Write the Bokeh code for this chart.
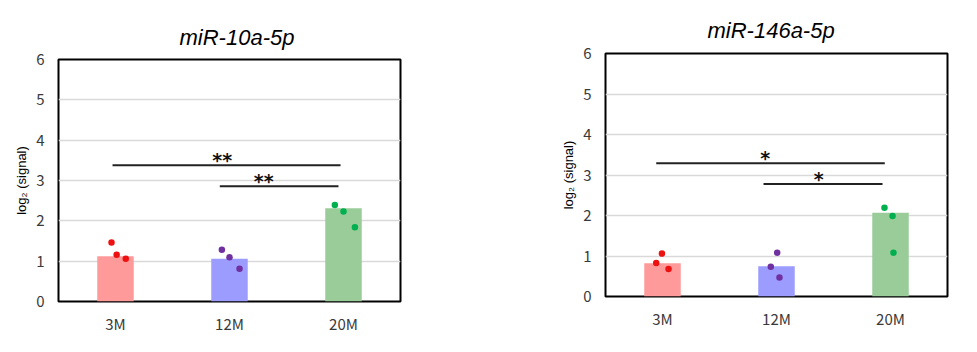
from bokeh.plotting import figure
from bokeh.layouts import row, column
from bokeh.models import Range1d, FixedTicker, ColumnDataSource
from bokeh.core.properties import value
from bokeh.embed import file_html
from bokeh.resources import INLINE

groups = ["3M", "12M", "20M"]
bar_colors = ["#ff9a9a", "#9c9cff", "#99cc99"]
dot_colors = ["#ee1111", "#7030a0", "#00b050"]

# miR-10a-5p
mean_a = [1.12, 1.06, 2.31]
pts_a = [[1.46, 1.16, 1.06], [1.28, 1.10, 0.81], [2.39, 2.23, 1.84]]
jit_a = [[-0.035, 0.01, 0.09], [-0.067, 0.0, 0.088], [-0.076, 0.0, 0.10]]
sig_a = {"x0": [0.474, 1.415], "x1": [2.474, 2.456], "y": [3.38, 2.86],
         "tx": [1.436, 1.80], "label": ["**", "**"]}

# miR-146a-5p
mean_b = [0.82, 0.75, 2.07]
pts_b = [[1.06, 0.83, 0.68], [1.08, 0.735, 0.47], [2.19, 1.99, 1.08]]
jit_b = [[-0.005, -0.055, 0.053], [0.006, -0.05, 0.026], [-0.053, 0.018, 0.026]]
sig_b = {"x0": [0.445, 1.386], "x1": [2.45, 2.43], "y": [3.29, 2.78],
         "tx": [1.40, 1.87], "label": ["*", "*"]}

yticks = [0, 1, 2, 3, 4, 5, 6]


def make(title, means, pts, jit, sig, left, right, top, bottom, fh, toff, tstand):
    p = figure(frame_width=342, frame_height=fh, output_backend="svg", toolbar_location=None,
               x_range=Range1d(0, 3), y_range=Range1d(0, 6),
               min_border_left=left, min_border_right=right,
               min_border_top=top, min_border_bottom=bottom)
    p.title.text = title
    p.title.text_font = "Liberation Sans"
    p.title.text_font_style = "italic"
    p.title.text_font_size = "22px"
    p.title.text_color = "#000000"
    p.title.align = "left"
    p.title.offset = toff
    p.title.standoff = tstand
    p.outline_line_color = "black"
    p.outline_line_width = 2
    p.background_fill_color = "white"
    p.border_fill_color = "white"

    xs = [0.5 + i for i in range(len(groups))]
    src = ColumnDataSource(dict(x=xs, top=means, color=bar_colors))
    p.vbar(x="x", top="top", width=0.32, bottom=0, color="color", source=src,
           line_color=None)

    dx, dy, dc = [], [], []
    for i in range(len(groups)):
        for v, j in zip(pts[i], jit[i]):
            dx.append(xs[i] + j)
            dy.append(v)
            dc.append(dot_colors[i])
    p.scatter(dx, dy, size=6.5, color=dc, line_color=None)

    p.segment(x0=sig["x0"], y0=sig["y"], x1=sig["x1"], y1=sig["y"],
              line_color="#222222", line_width=2)
    p.text(x=sig["tx"], y=sig["y"], text=sig["label"], text_font=value("DejaVu Sans"),
           text_font_style="bold", text_font_size="19px", text_align="center",
           text_baseline="alphabetic", y_offset=-5, text_color="#111111")

    p.xaxis.ticker = FixedTicker(ticks=xs)
    p.xaxis.major_label_overrides = {x: g for x, g in zip(xs, groups)}
    p.yaxis.ticker = FixedTicker(ticks=yticks)
    for ax in (p.xaxis, p.yaxis):
        ax.axis_line_color = None
        ax.major_tick_line_color = None
        ax.minor_tick_line_color = None
        ax.major_tick_out = 0
        ax.major_tick_in = 0
        ax.major_label_text_font = "Noto Sans CJK JP"
        ax.major_label_text_color = "#3a3a3a"
    p.xaxis.major_label_text_font_size = "15px"
    p.xaxis.major_label_standoff = 11
    p.yaxis.major_label_text_font_size = "15px"
    p.yaxis.major_label_standoff = 14
    p.yaxis.axis_label = "log₂ (signal)"
    p.yaxis.axis_label_text_font = "Liberation Sans"
    p.yaxis.axis_label_text_font_style = "normal"
    p.yaxis.axis_label_text_font_size = "13px"
    p.yaxis.axis_label_text_color = "#000000"
    p.yaxis.axis_label_standoff = 4
    p.xgrid.grid_line_color = None
    p.ygrid.grid_line_color = "#d9d9d9"
    p.ygrid.grid_line_width = 1.5
    return p


p1 = make("miR-10a-5p", mean_a, pts_a, jit_a, sig_a, 58, 90, 59, 51, 242, 121, 20)
p2 = make("miR-146a-5p", mean_b, pts_b, jit_b, sig_b, 115, 30, 53, 56, 243, 102, 22)
layout = row(column(p1), column(p2))
open("out.html", "w").write(file_html(layout, INLINE))
